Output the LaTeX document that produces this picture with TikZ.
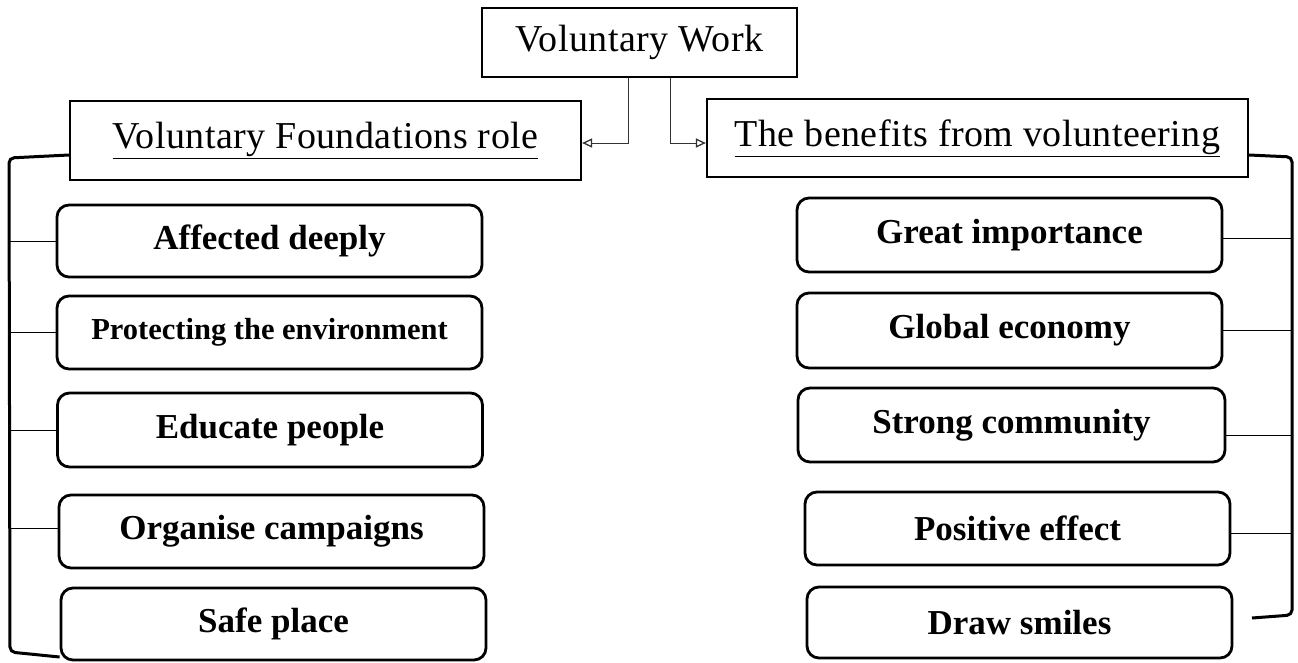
\documentclass[tikz,border=0pt]{standalone}
\usepackage{fontspec}
\setmainfont{Liberation Serif}
\newfontfamily\hdrfont[LetterSpace=1.2]{Liberation Serif}
\usetikzlibrary{arrows.meta}
\begin{document}
\begin{tikzpicture}[x=1pt,y=-1pt,
  hdr/.style={draw, line width=2.2pt, inner sep=0pt, font=\hdrfont\fontsize{38}{40}\selectfont},
  itembox/.style={draw, line width=2.8pt, rounded corners=12pt, inner sep=0pt,
    minimum width=425pt, font=\bfseries\fontsize{35}{38}\selectfont},
  tie/.style={line width=1pt},
  brk/.style={line width=3pt, rounded corners=5pt},
  conn/.style={line width=1pt, black!80, -{Triangle[open,length=10pt,width=9pt,line width=1.3pt]}}
]
\useasboundingbox (0,0) rectangle (1298,662);

% top
\node[hdr, minimum width=315pt, minimum height=69pt] (vw) at (639.5,42.5) {Voluntary Work};
\node[hdr, minimum width=511pt, minimum height=79pt] (vfr) at (325.5,140.5) {\underline{Voluntary Foundations role}};
\node[hdr, minimum width=541pt, minimum height=78pt] (bfv) at (977.5,138) {\underline{The benefits from volunteering}};

\coordinate (ay) at (0,143);
\draw[conn] ([xshift=-11.5pt]vw.south) |- (vfr.east |- ay);
\draw[conn] ([xshift=30.5pt]vw.south) |- (bfv.west |- ay);

% left items
\node[itembox, minimum height=72pt] (l1) at (269.5,241) {Affected deeply};
\node[itembox, minimum height=73pt, font=\bfseries\fontsize{30.5}{34}\selectfont] (l2) at (269.5,332.5) {Protecting the environment};
\node[itembox, minimum height=74pt] (l3) at (270,430) {Educate people};
\node[itembox, minimum height=73pt] (l4) at (271.5,531.5) {Organise campaigns};
\node[itembox, minimum height=72pt] (l5) at (273.5,624) {Safe place};

% right items
\node[itembox, minimum height=74pt] (r1) at (1009.5,235) {Great importance};
\node[itembox, minimum height=75pt] (r2) at (1009.5,330.5) {Global economy};
\node[itembox, minimum height=74pt, minimum width=427pt] (r3) at (1011.5,425) {Strong community};
\node[itembox, minimum height=73pt] (r4) at (1017.5,528.5) {Positive effect};
\node[itembox, minimum height=71pt] (r5) at (1019.5,622.5) {Draw smiles};

% left bracket
\coordinate (lb) at (9,0);
\draw[brk] (vfr.west |- 0,155) -- (9,158) -- (10,652) -- (l5.west |- 0,657);
\draw[tie] (l1.west) -- (l1.west -| lb);
\draw[tie] (l2.west) -- (l2.west -| lb);
\draw[tie] (l3.west) -- (l3.west -| lb);
\draw[tie] ([yshift=3pt]l4.west) -- ([yshift=3pt]l4.west -| lb);

% right bracket
\coordinate (rb) at (1292,0);
\draw[brk] (bfv.east |- 0,155) -- (1292,157) -- (1292,615) -- (1252,618);
\draw[tie] ([yshift=-3pt]r1.east) -- ([yshift=-3pt]r1.east -| rb);
\draw[tie] (r2.east) -- (r2.east -| rb);
\draw[tie] ([yshift=-10pt]r3.east) -- ([yshift=-10pt]r3.east -| rb);
\draw[tie] ([yshift=-5pt]r4.east) -- ([yshift=-5pt]r4.east -| rb);
\end{tikzpicture}
\end{document}
